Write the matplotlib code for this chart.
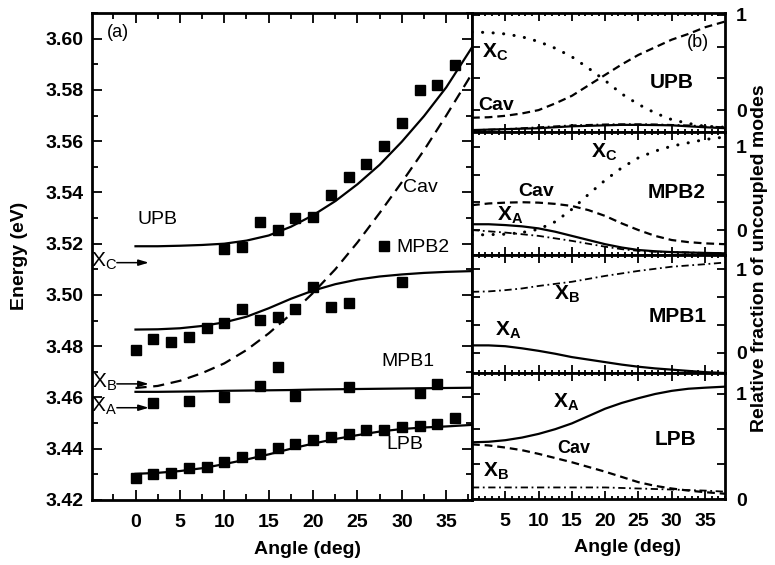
import numpy as np
import matplotlib
matplotlib.use("Agg")
import matplotlib.pyplot as plt
from matplotlib.ticker import MultipleLocator, FixedLocator, FormatStrFormatter

plt.rcParams['font.family'] = ['Liberation Sans', 'DejaVu Sans']
plt.rcParams['mathtext.fontset'] = 'custom'
plt.rcParams['mathtext.rm'] = 'Liberation Sans'
plt.rcParams['mathtext.bf'] = 'Liberation Sans:bold'
plt.rcParams['mathtext.it'] = 'Liberation Sans:italic'

# ---------------- Panel (a): measured dispersion (squares) ----------------
lpb_pts_ang = [0, 2, 4, 6, 8, 10, 12, 14, 16, 18, 20, 22, 24, 26, 28, 30, 32, 34, 36]
lpb_pts_e = [3.4286, 3.4301, 3.4306, 3.4325, 3.4329, 3.4348, 3.4368, 3.4380, 3.4403, 3.4419,
             3.4434, 3.4446, 3.4458, 3.4473, 3.4473, 3.4485, 3.4489, 3.4497, 3.4520]
mpb1_pts_ang = [2, 6, 10, 14, 16, 18, 24, 32, 34]
mpb1_pts_e = [3.4579, 3.4587, 3.4602, 3.4645, 3.4719, 3.4606, 3.4641, 3.4618, 3.4653]
mpb2_pts_ang = [0, 2, 4, 6, 8, 10, 12, 14, 16, 18, 20, 22, 24, 28, 30]
mpb2_pts_e = [3.4786, 3.4829, 3.4817, 3.4837, 3.4872, 3.4891, 3.4946, 3.4903, 3.4915, 3.4946,
              3.5032, 3.4954, 3.4970, 3.5190, 3.5052]
upb_pts_ang = [10, 12, 14, 16, 18, 20, 22, 24, 26, 28, 30, 32, 34, 36]
upb_pts_e = [3.5180, 3.5187, 3.5286, 3.5255, 3.5301, 3.5305, 3.5391, 3.5462, 3.5512, 3.5583,
             3.5669, 3.5798, 3.5821, 3.5899]

# fitted branches (panel a)
fit_ang = [0, 2.5, 5, 7.5, 10, 12.5, 15, 17.5, 20, 22.5, 25, 27.5, 30, 32.5, 35, 37.9]
upb_fit = [3.5190, 3.5190, 3.5192, 3.5195, 3.5200, 3.5212, 3.5232, 3.5266, 3.5311, 3.5366,
           3.5432, 3.5508, 3.5598, 3.5698, 3.5810, 3.5966]
mpb2_fit = [3.4865, 3.4866, 3.4870, 3.4879, 3.4893, 3.4915, 3.4948, 3.4985, 3.5017, 3.5042,
            3.5060, 3.5072, 3.5080, 3.5086, 3.5090, 3.5093]
mpb1_fit = [3.4622, 3.4622, 3.4623, 3.4624, 3.4626, 3.4627, 3.4628, 3.4629, 3.4631, 3.4632,
            3.4633, 3.4634, 3.4635, 3.4636, 3.4637, 3.4638]
lpb_fit = [3.4302, 3.4306, 3.4313, 3.4324, 3.4340, 3.4358, 3.4378, 3.4400, 3.4420, 3.4438,
           3.4453, 3.4467, 3.4477, 3.4483, 3.4487, 3.4493]
cav_ang = [0, 2.5, 5, 7.5, 10, 12.5, 15, 17.5, 20, 22.5, 25, 27.5, 30, 32.5, 35, 37.5, 37.9]
cav_e = [3.4637, 3.4645, 3.4665, 3.4695, 3.4733, 3.4785, 3.4850, 3.4925, 3.5008, 3.5100,
         3.5205, 3.5320, 3.5440, 3.5565, 3.5700, 3.5841, 3.5865]

# exciton levels marked with arrows
exc_labels = ['C', 'B', 'A']
exc_energy = [3.5126, 3.4653, 3.4560]

# ---------------- Panel (b): relative fractions ----------------
frac_ang = [0, 2.5, 5, 7.5, 10, 12.5, 15, 17.5, 20, 22.5, 25, 27.5, 30, 32.5, 35, 38]
upb_xc = [0.82, 0.815, 0.80, 0.77, 0.72, 0.65, 0.56, 0.44, 0.31, 0.17, 0.06, -0.03,
          -0.10, -0.14, -0.17, -0.18]
upb_cav = [-0.08, -0.075, -0.06, -0.035, 0.0, 0.07, 0.15, 0.26, 0.37, 0.48, 0.58, 0.66,
           0.74, 0.80, 0.87, 0.93]
upb_xa = [-0.21, -0.205, -0.20, -0.195, -0.19, -0.18, -0.17, -0.165, -0.16, -0.155, -0.155,
          -0.157, -0.16, -0.17, -0.18, -0.19]
upb_xb = [-0.21, -0.205, -0.20, -0.19, -0.18, -0.17, -0.16, -0.155, -0.15, -0.148, -0.148,
          -0.15, -0.155, -0.16, -0.17, -0.18]

mpb2_xc = [-0.06, -0.055, -0.05, -0.03, 0.01, 0.10, 0.25, 0.43, 0.60, 0.75, 0.87, 0.95,
           1.01, 1.05, 1.09, 1.12]
mpb2_cav = [0.30, 0.32, 0.33, 0.335, 0.33, 0.315, 0.29, 0.24, 0.17, 0.08, 0.0, -0.07,
            -0.12, -0.145, -0.16, -0.17]
mpb2_xa = [0.07, 0.07, 0.06, 0.045, 0.02, -0.02, -0.07, -0.12, -0.17, -0.21, -0.24, -0.255,
           -0.265, -0.27, -0.275, -0.28]
mpb2_xb = [0.0, -0.015, -0.03, -0.05, -0.07, -0.10, -0.13, -0.165, -0.20, -0.23, -0.25,
           -0.26, -0.265, -0.27, -0.275, -0.28]

mpb1_xb = [0.73, 0.735, 0.75, 0.77, 0.80, 0.825, 0.85, 0.885, 0.92, 0.95, 0.98, 1.005,
           1.03, 1.045, 1.06, 1.08]
mpb1_xa = [0.09, 0.09, 0.08, 0.055, 0.025, -0.01, -0.05, -0.08, -0.11, -0.14, -0.165,
           -0.185, -0.20, -0.215, -0.23, -0.24]

lpb_xa = [0.54, 0.545, 0.56, 0.585, 0.62, 0.665, 0.72, 0.79, 0.86, 0.915, 0.96, 1.00,
          1.03, 1.05, 1.06, 1.07]
lpb_cav = [0.52, 0.51, 0.49, 0.465, 0.43, 0.39, 0.35, 0.305, 0.26, 0.21, 0.16, 0.125,
           0.10, 0.08, 0.065, 0.05]
lpb_xb = [0.11, 0.11, 0.11, 0.11, 0.11, 0.11, 0.11, 0.11, 0.11, 0.105, 0.10, 0.095,
          0.09, 0.085, 0.08, 0.07]

# ---------------- figure ----------------
W, H = 775, 565
fig = plt.figure(figsize=(W / 100, H / 100), dpi=100)


def rect(l, t, r, b):
    return [l / W, 1 - b / H, (r - l) / W, (b - t) / H]


LW = 1.6
TFS = 14

axa = fig.add_axes(rect(92, 13, 472, 500))
for s in axa.spines.values():
    s.set_linewidth(2.0)
axa.set_xlim(-4.9, 37.9)
axa.set_ylim(3.42, 3.61)
axa.xaxis.set_major_locator(FixedLocator([0, 5, 10, 15, 20, 25, 30, 35]))
axa.xaxis.set_minor_locator(FixedLocator([-2.5, 2.5, 7.5, 12.5, 17.5, 22.5, 27.5, 32.5, 37.5]))
axa.yaxis.set_major_locator(MultipleLocator(0.02))
axa.yaxis.set_minor_locator(MultipleLocator(0.01))
axa.yaxis.set_major_formatter(FormatStrFormatter('%.2f'))
axa.tick_params(which='both', direction='in', top=True, right=True, width=1.3)
axa.tick_params(which='major', length=7, labelsize=TFS)
axa.tick_params(which='minor', length=4)
axa.tick_params(axis='x', pad=10)
axa.tick_params(axis='y', pad=6)
for lab in axa.get_xticklabels() + axa.get_yticklabels():
    lab.set_fontweight('bold')

ms = 6.5
for a_, e_ in [(lpb_pts_ang, lpb_pts_e), (mpb1_pts_ang, mpb1_pts_e),
               (mpb2_pts_ang, mpb2_pts_e), (upb_pts_ang, upb_pts_e)]:
    axa.plot(a_, e_, 's', color='black', ms=ms, mec='black', zorder=3)

for e_ in [upb_fit, mpb2_fit, mpb1_fit, lpb_fit]:
    axa.plot(fit_ang, e_, '-', color='black', lw=LW)
axa.plot(cav_ang, cav_e, color='black', lw=LW, linestyle=(0, (5, 3)))

for lab, e in zip(exc_labels, exc_energy):
    axa.annotate('', xy=(1.5, e), xytext=(-2.1, e),
                 arrowprops=dict(arrowstyle='-|>,head_length=0.6,head_width=0.18',
                                 color='black', lw=1.1, shrinkA=0, shrinkB=0))
    axa.text(-2.05, e + 0.0006, r'$\mathrm{X_{%s}}$' % lab, ha='right', va='center',
             fontsize=15)

axa.text(-2.0, 3.6024, '(a)', ha='center', va='center', fontsize=13)
axa.text(2.5, 3.5295, 'UPB', ha='center', va='center', fontsize=14)
axa.text(30.1, 3.5419, 'Cav', ha='left', va='center', fontsize=14)
axa.text(29.4, 3.5186, 'MPB2', ha='left', va='center', fontsize=14)
axa.text(27.7, 3.4739, 'MPB1', ha='left', va='center', fontsize=14)
axa.text(28.2, 3.4415, 'LPB', ha='left', va='center', fontsize=14)

fig.text(20 / W, 1 - 256 / H, 'Energy (eV)', rotation=90, ha='center', va='center',
         fontsize=TFS, fontweight='bold')
fig.text(307 / W, 1 - 550 / H, 'Angle (deg)', ha='center', va='center',
         fontsize=TFS, fontweight='bold')

# ---------------- panel (b) ----------------
bounds = [13, 132, 255, 373, 499]
ylims = [(-0.23, 1.02), (-0.30, 1.18), (-0.24, 1.17), (0.0, 1.2)]
DASH = (0, (3.5, 2.2))
DOT = (0, (0.05, 3.4))
DASHDOT = (0, (4, 2, 1, 2))

axes_b = []
for i in range(4):
    ax = fig.add_axes(rect(472, bounds[i], 725, bounds[i + 1]))
    axes_b.append(ax)
    for s in ax.spines.values():
        s.set_linewidth(2.0)
    ax.set_xlim(0, 38)
    ax.set_ylim(*ylims[i])
    ax.xaxis.set_major_locator(FixedLocator([5, 10, 15, 20, 25, 30, 35]))
    ax.xaxis.set_minor_locator(MultipleLocator(1))
    ax.yaxis.set_major_locator(FixedLocator([0, 1 / 3, 2 / 3, 1]))
    ax.set_yticklabels(['0', '', '', '1'])
    ax.tick_params(which='both', direction='in', top=True, right=True, left=True,
                   labelleft=False, labelright=True, width=1.3)
    ax.tick_params(which='major', length=6, labelsize=TFS)
    ax.tick_params(which='minor', length=2.5)
    ax.tick_params(axis='y', pad=8)
    ax.tick_params(axis='x', pad=10)
    if i < 3:
        ax.tick_params(labelbottom=False)
    for lab in ax.get_xticklabels() + ax.get_yticklabels():
        lab.set_fontweight('bold')


def dotted(ax, y):
    ax.plot(frac_ang, y, color='black', lw=2.2, linestyle=DOT, dash_capstyle='round')


def dashed(ax, y):
    ax.plot(frac_ang, y, color='black', lw=LW, linestyle=DASH)


def solid(ax, y):
    ax.plot(frac_ang, y, color='black', lw=LW)


def dashdot(ax, y):
    ax.plot(frac_ang, y, color='black', lw=1.3, linestyle=DASHDOT)


ax = axes_b[0]
dotted(ax, upb_xc)
dashed(ax, upb_cav)
solid(ax, upb_xa)
dashdot(ax, upb_xb)
ax.text(3.5, 0.61, r'$\mathbf{X_C}$', ha='center', va='center', fontsize=15)
ax.text(33.9, 0.705, '(b)', ha='center', va='center', fontsize=13)
ax.text(30.0, 0.29, 'UPB', ha='center', va='center', fontsize=15, fontweight='bold')
ax.text(3.6, 0.05, 'Cav', ha='center', va='center', fontsize=14, fontweight='bold')

ax = axes_b[1]
dotted(ax, mpb2_xc)
dashed(ax, mpb2_cav)
solid(ax, mpb2_xa)
dashdot(ax, mpb2_xb)
ax.text(19.8, 0.93, r'$\mathbf{X_C}$', ha='center', va='center', fontsize=15)
ax.text(9.7, 0.46, 'Cav', ha='center', va='center', fontsize=14, fontweight='bold')
ax.text(30.8, 0.45, 'MPB2', ha='center', va='center', fontsize=15, fontweight='bold')
ax.text(5.8, 0.18, r'$\mathbf{X_A}$', ha='center', va='center', fontsize=15)

ax = axes_b[2]
dashdot(ax, mpb1_xb)
solid(ax, mpb1_xa)
ax.text(14.2, 0.70, r'$\mathbf{X_B}$', ha='center', va='center', fontsize=15)
ax.text(30.9, 0.43, 'MPB1', ha='center', va='center', fontsize=15, fontweight='bold')
ax.text(5.5, 0.27, r'$\mathbf{X_A}$', ha='center', va='center', fontsize=15)

ax = axes_b[3]
solid(ax, lpb_xa)
dashed(ax, lpb_cav)
dashdot(ax, lpb_xb)
ax.text(14.1, 0.92, r'$\mathbf{X_A}$', ha='center', va='center', fontsize=15)
ax.text(30.5, 0.57, 'LPB', ha='center', va='center', fontsize=15, fontweight='bold')
ax.text(15.3, 0.48, 'Cav', ha='center', va='center', fontsize=13, fontweight='bold')
ax.text(3.6, 0.26, r'$\mathbf{X_B}$', ha='center', va='center', fontsize=15)

fig.text(628 / W, 1 - 548 / H, 'Angle (deg)', ha='center', va='center',
         fontsize=TFS, fontweight='bold')
fig.text(760 / W, 1 - 258 / H, 'Relative fraction of uncoupled modes', rotation=90,
         ha='center', va='center', fontsize=TFS, fontweight='bold')

fig.savefig('out.png', dpi=100)
